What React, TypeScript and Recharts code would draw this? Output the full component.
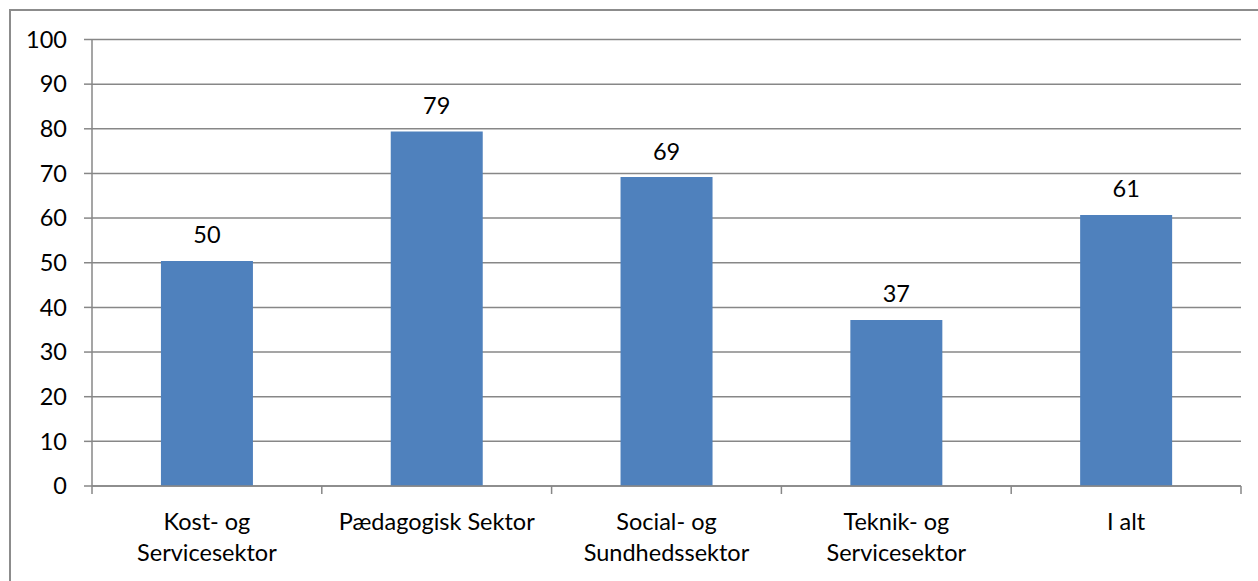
import React from "react";
import { BarChart, Bar, XAxis, YAxis, CartesianGrid, LabelList } from "recharts";

const categories = ["Kost- og Servicesektor", "Pædagogisk Sektor", "Social- og Sundhedssektor", "Teknik- og Servicesektor", "I alt"];
const categoryLines = [["Kost- og", "Servicesektor"], ["Pædagogisk Sektor"], ["Social- og", "Sundhedssektor"], ["Teknik- og", "Servicesektor"], ["I alt"]];
const values = [50.4, 79.4, 69.2, 37.2, 60.7];
const yTicks = [0, 10, 20, 30, 40, 50, 60, 70, 80, 90, 100];

const data = categories.map((c, i) => ({ name: c, idx: i, value: values[i] }));

const W = 1258;
const H = 581;
const LEFT = 92;
const RIGHT_MARGIN = 17;
const BAND = (W - LEFT - RIGHT_MARGIN) / categories.length;
const FONT = "Lato, 'Liberation Sans', sans-serif";
const FS = 23.5;
const GRID = "#878787";

const XTick = (props: any) => {
  const { x, y, payload, index } = props;
  const lines = categoryLines[index] || [payload.value];
  const axisY = y - 8;
  return (
    <g>
      <line x1={x - BAND / 2} x2={x - BAND / 2} y1={axisY} y2={axisY + 8} stroke={GRID} strokeWidth={1.5} />
      {index === categories.length - 1 && (
        <line x1={x + BAND / 2} x2={x + BAND / 2} y1={axisY} y2={axisY + 8} stroke={GRID} strokeWidth={1.5} />
      )}
      {lines.map((l: string, i: number) => (
        <text key={i} x={x} y={axisY + 44 + i * 31} textAnchor="middle" fontSize={FS} fill="#000" fontFamily={FONT}>
          {l}
        </text>
      ))}
    </g>
  );
};

export default function App() {
  return (
    <div style={{ position: "absolute", left: 0, top: 0, width: W, height: H, overflow: "hidden", background: "#fff" }}>
      <div style={{ position: "absolute", left: 9, top: 9, width: 1300, height: 700, border: "2px solid #8c8c8c", boxSizing: "border-box" }} />
      <div style={{ position: "absolute", left: 0, top: 0 }}>
        <BarChart
          width={W}
          height={H}
          data={data}
          margin={{ top: 39.5, right: RIGHT_MARGIN, bottom: 35, left: 0 }}
          barCategoryGap="30%"
        >
          <CartesianGrid vertical={false} stroke={GRID} strokeWidth={1.5} />
          <XAxis
            dataKey="name"
            height={60}
            tickLine={false}
            axisLine={{ stroke: GRID, strokeWidth: 1.5 }}
            tick={<XTick />}
            interval={0}
          />
          <YAxis
            width={LEFT}
            domain={[0, 100]}
            ticks={yTicks}
            interval={0}
            tickSize={8}
            tickMargin={17}
            tickLine={{ stroke: GRID, strokeWidth: 1.5 }}
            axisLine={{ stroke: GRID, strokeWidth: 1.5 }}
            tick={{ fontSize: FS, fill: "#000", fontFamily: FONT }}
          />
          <Bar dataKey="value" fill="#4f81bd" isAnimationActive={false}>
            <LabelList
              dataKey="value"
              position="top"
              offset={17.5}
              formatter={(v: any) => Math.round(Number(v))}
              style={{ fontSize: FS, fill: "#000", fontFamily: FONT }}
            />
          </Bar>
        </BarChart>
      </div>
    </div>
  );
}
